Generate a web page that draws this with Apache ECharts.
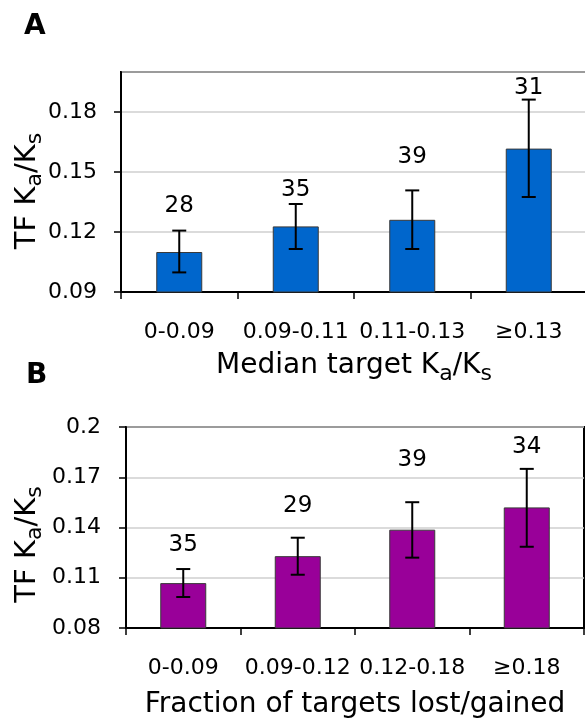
<!DOCTYPE html>
<html>
<head>
<meta charset="utf-8">
<script src="https://cdn.jsdelivr.net/npm/echarts@6/dist/echarts.min.js"></script>
<style>
html,body{margin:0;padding:0;background:#fff;}
#chart{width:585px;height:727px;}
</style>
</head>
<body>
<div id="chart"></div>
<script>
const FONT = 'DejaVu Sans';

// panel A
const catsA = ['0-0.09', '0.09-0.11', '0.11-0.13', '≥0.13'];
const meanA = [0.110, 0.1228, 0.1261, 0.1617];
const lowA = [0.0998, 0.1115, 0.1115, 0.1375];
const highA = [0.1207, 0.134, 0.1408, 0.1862];
const countA = [28, 35, 39, 31];
const countPosA = [0.1328, 0.1408, 0.1573, 0.192];

// panel B
const catsB = ['0-0.09', '0.09-0.12', '0.12-0.18', '≥0.18'];
const meanB = [0.1068, 0.1229, 0.1387, 0.152];
const lowB = [0.0985, 0.1118, 0.122, 0.1285];
const highB = [0.1152, 0.1339, 0.1551, 0.175];
const countB = [35, 29, 39, 34];
const countPosB = [0.1293, 0.1526, 0.18, 0.188];

const sub = {fontSize: 22, fontFamily: FONT, color: '#000', lineHeight: 22, padding: [16, 0, 0, 0]};

let fmt = v => String(+v.toFixed(2));

function errBar(params, api){
	let x = api.value(0);
	let lo = api.coord([x, api.value(1)]);
	let hi = api.coord([x, api.value(2)]);
	let c = 7;
	let st = {stroke: '#000', lineWidth: 2};
	return {type: 'group', children: [
		{type: 'line', shape: {x1: lo[0], y1: lo[1], x2: hi[0], y2: hi[1]}, style: st},
		{type: 'line', shape: {x1: lo[0]-c, y1: lo[1], x2: lo[0]+c, y2: lo[1]}, style: st},
		{type: 'line', shape: {x1: hi[0]-c, y1: hi[1], x2: hi[0]+c, y2: hi[1]}, style: st}
	]};
}

function countText(params, api){
	let p = api.coord([api.value(0), api.value(1)]);
	return {type: 'text', x: p[0], y: p[1], style: {
		text: String(api.value(2)), fontSize: 23, fontFamily: FONT, fill: '#000',
		align: 'center', verticalAlign: 'middle'
	}};
}

const xAxisBase = (idx, cats, name, gap) => ({
	gridIndex: idx, type: 'category', data: cats,
	axisLine: {lineStyle: {color: '#000', width: 2}},
	axisTick: {show: true, length: 7, lineStyle: {color: '#000', width: 1.5}},
	axisLabel: {fontSize: 22, fontFamily: FONT, color: '#000', margin: 29, interval: 0},
	name: name, nameLocation: 'middle', nameGap: gap, nameMoveOverlap: false,
	nameTextStyle: {fontSize: 28, fontFamily: FONT, color: '#000', rich: {s: sub}}
});

const yAxisBase = (idx, min, gap, shift, margin, showMax) => ({
	gridIndex: idx, type: 'value', min: min, max: 0.2, interval: 0.03,
	axisLine: {show: true, lineStyle: {color: '#000', width: 2}},
	axisTick: {show: true, length: 7, lineStyle: {color: '#000', width: 1.5}},
	axisLabel: {fontSize: 22, fontFamily: FONT, color: '#000', margin: margin, showMaxLabel: showMax, formatter: fmt},
	splitLine: {lineStyle: {color: '#cfcfcf', width: 1.5}},
	name: 'TF K{s|a}/K{s|s}', nameLocation: 'middle', nameRotate: 90, nameGap: gap, nameMoveOverlap: false,
	nameTextStyle: {fontSize: 29, fontFamily: FONT, color: '#000', padding: [0, shift, 0, 0], rich: {s: sub}}
});

let chart = echarts.init(document.getElementById('chart'));
chart.setOption({
	animation: false,
	title: [
		{text: 'A', left: 19, top: 8, textStyle: {fontSize: 28, fontWeight: 'bold', fontFamily: FONT, color: '#000'}},
		{text: 'B', left: 21, top: 357, textStyle: {fontSize: 28, fontWeight: 'bold', fontFamily: FONT, color: '#000'}}
	],
	grid: [
		{left: 121, top: 72, width: 466, height: 220, show: true, borderColor: '#000', borderWidth: 2, outerBoundsMode: 'none'},
		{left: 126, top: 427, width: 458, height: 201, show: true, borderColor: '#000', borderWidth: 2, outerBoundsMode: 'none'}
	],
	xAxis: [
		xAxisBase(0, catsA, 'Median target K{s|a}/K{s|s}', 60),
		xAxisBase(1, catsB, 'Fraction of targets lost/gained', 63)
	],
	yAxis: [
		yAxisBase(0, 0.09, 79, 18, 24, false),
		yAxisBase(1, 0.08, 84, 34, 25, true)
	],
	series: [
		{type: 'bar', xAxisIndex: 0, yAxisIndex: 0, data: meanA, barWidth: 46,
			itemStyle: {color: '#0066cc', borderColor: '#3a3a3a', borderWidth: 1}},
		{type: 'custom', xAxisIndex: 0, yAxisIndex: 0, renderItem: errBar,
			data: catsA.map((c, i) => [i, lowA[i], highA[i]]), encode: {x: 0, y: [1, 2]}, z: 5},
		{type: 'custom', xAxisIndex: 0, yAxisIndex: 0, renderItem: countText,
			data: catsA.map((c, i) => [i, countPosA[i], countA[i]]), encode: {x: 0, y: 1}, z: 5},
		{type: 'bar', xAxisIndex: 1, yAxisIndex: 1, data: meanB, barWidth: 46,
			itemStyle: {color: '#990099', borderColor: '#3a3a3a', borderWidth: 1}},
		{type: 'custom', xAxisIndex: 1, yAxisIndex: 1, renderItem: errBar,
			data: catsB.map((c, i) => [i, lowB[i], highB[i]]), encode: {x: 0, y: [1, 2]}, z: 5},
		{type: 'custom', xAxisIndex: 1, yAxisIndex: 1, renderItem: countText,
			data: catsB.map((c, i) => [i, countPosB[i], countB[i]]), encode: {x: 0, y: 1}, z: 5}
	]
});
</script>
</body>
</html>
